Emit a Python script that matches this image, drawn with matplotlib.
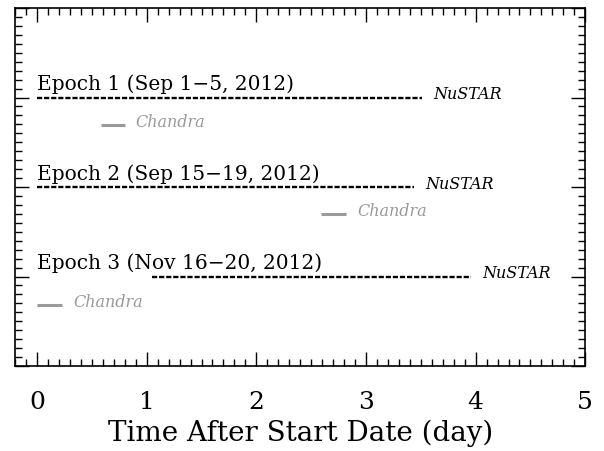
import matplotlib
matplotlib.use("Agg")
import matplotlib.pyplot as plt
from matplotlib.ticker import MultipleLocator

# epoch labels and y levels
epochs = ["Epoch 1 (Sep 1\u22125, 2012)", "Epoch 2 (Sep 15\u221219, 2012)", "Epoch 3 (Nov 16\u221220, 2012)"]
levels = [3, 2, 1]

# NuSTAR spans (day)
nu_start = [0.0, 0.0, 1.05]
nu_end = [3.51, 3.44, 3.96]

# Chandra spans (day) and y levels
ch_start = [0.58, 2.59, 0.0]
ch_end = [0.80, 2.82, 0.23]
ch_levels = [2.69, 1.70, 0.68]

gray = "#9a9a9a"
serif = "DejaVu Serif"

fig = plt.figure(figsize=(6.04, 4.52), dpi=100)
ax = fig.add_axes([0.025, 0.188, 0.944, 0.792])

for i in range(3):
    y = levels[i]
    ax.plot([nu_start[i], nu_end[i]], [y, y], color="black", lw=1.7,
            linestyle=(0, (2.2, 0.8)))
    ax.text(nu_end[i] + 0.1, y + 0.04, "NuSTAR", fontsize=11.5, family=serif,
            style="italic", va="center", ha="left")
    ax.text(0.0, y + 0.09, epochs[i], fontsize=14.5, family=serif,
            va="baseline", ha="left")
    yc = ch_levels[i]
    ax.plot([ch_start[i], ch_end[i]], [yc, yc], color=gray, lw=2.2,
            solid_capstyle="butt")
    ax.text(ch_end[i] + 0.1, yc + 0.04, "Chandra", fontsize=11.5, family=serif,
            style="italic", color=gray, va="center", ha="left")

ax.set_xlim(-0.2, 5.0)
ax.set_ylim(0, 4)
ax.xaxis.set_major_locator(MultipleLocator(1))
ax.xaxis.set_minor_locator(MultipleLocator(0.1))
ax.yaxis.set_major_locator(MultipleLocator(1))
ax.yaxis.set_minor_locator(MultipleLocator(0.1))
ax.tick_params(which="both", direction="in", top=True, right=True, width=1)
ax.tick_params(which="major", length=10, labelsize=18, pad=17)
ax.tick_params(which="minor", length=5)
ax.set_yticklabels([])
for lab in ax.get_xticklabels():
    lab.set_family(serif)
for s in ax.spines.values():
    s.set_linewidth(1.2)
ax.set_xlabel("Time After Start Date (day)", fontsize=20, family=serif, labelpad=4)

fig.savefig("out.png", dpi=100)
